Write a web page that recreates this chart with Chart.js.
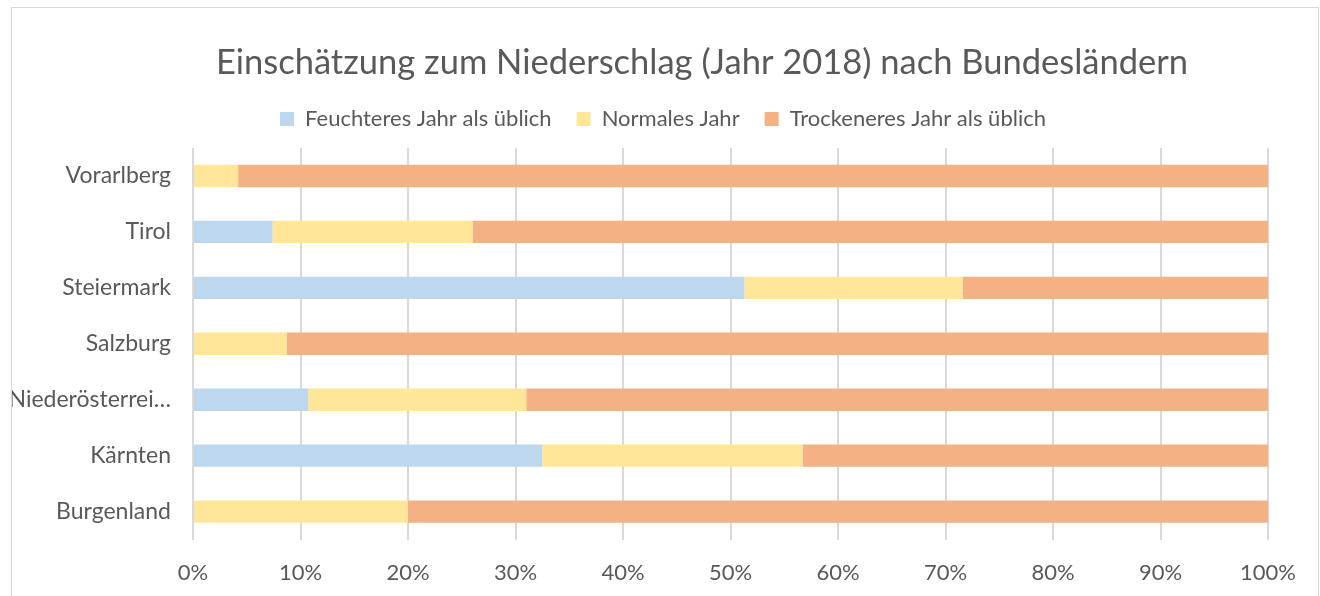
<!DOCTYPE html>
<html>
<head>
<meta charset="utf-8">
<script src="https://cdn.jsdelivr.net/npm/chart.js@4"></script>
<style>
  body { margin: 0; background: #fff; }
  #wrap { position: absolute; left: 11px; top: 7px; width: 1306px; height: 602px; border: 1px solid #d9d9d9; }
</style>
</head>
<body>
<div id="wrap"><canvas id="barChart"></canvas></div>
<script>
// Bundesländer (top of the chart first)
const laender = ['Vorarlberg', 'Tirol', 'Steiermark', 'Salzburg', 'Niederösterreich', 'Kärnten', 'Burgenland'];
const feuchter = [0, 7.4, 51.3, 0, 10.7, 32.5, 0];
const normal = [4.2, 18.6, 20.3, 8.7, 20.3, 24.2, 20.0];
const trockener = [95.8, 74.0, 28.4, 91.3, 69.0, 43.3, 80.0];
const xTicks = [0, 10, 20, 30, 40, 50, 60, 70, 80, 90, 100];
const titel = 'Einschätzung zum Niederschlag (Jahr 2018) nach Bundesländern';

const textColor = '#595959';
const fontFamily = 'Lato, "Open Sans", sans-serif';

// title is drawn by hand, it sits a bit right of the legend in the original
const titlePlugin = {
    id: 'titlePlugin',
    afterLayout(chart) {
        // legend is centred over the whole box, not only the plot part
        chart.legend.left += 23;
        chart.legend.right += 23;
    },
    afterDraw(chart) {
        const c = chart.ctx;
        c.save();
        c.font = 'normal 34.5px ' + fontFamily;
        c.fillStyle = textColor;
        c.textAlign = 'center';
        c.textBaseline = 'middle';
        c.fillText(titel, 690, 55);
        c.restore();
    },
};

const ctx = document.getElementById('barChart').getContext('2d');
const barChart = new Chart(ctx, {
    type: 'bar',
    data: {
        labels: laender,
        datasets: [
            { label: 'Feuchteres Jahr als üblich', data: feuchter, backgroundColor: '#bdd7ee' },
            { label: 'Normales Jahr', data: normal, backgroundColor: '#ffe699' },
            { label: 'Trockeneres Jahr als üblich', data: trockener, backgroundColor: '#f4b183' },
        ],
    },
    plugins: [titlePlugin],
    options: {
        indexAxis: 'y',
        responsive: true,
        maintainAspectRatio: false,
        animation: false,
        datasets: { bar: { categoryPercentage: 1, barPercentage: 0.4 } },
        layout: { padding: { left: 0, right: 50, top: 75, bottom: 3 } },
        plugins: {
            title: { display: false },
            legend: {
                display: true,
                labels: {
                    color: textColor,
                    boxWidth: 14,
                    boxHeight: 14,
                    padding: 25,
                    font: { family: fontFamily, size: 22 },
                },
            },
            tooltip: { enabled: false },
        },
        scales: {
            x: {
                stacked: true,
                min: 0,
                max: 100,
                afterBuildTicks: function(axis) {
                    axis.ticks = xTicks.map(v => ({ value: v }));
                },
                grid: { color: '#d9d9d9', lineWidth: 2, drawTicks: false },
                border: { display: false },
                ticks: {
                    color: textColor,
                    padding: 20.5,
                    font: { family: fontFamily, size: 22 },
                    callback: function(value) {
                        return value + '%';
                    },
                },
            },
            // empty spacer between legend and plot
            xTop: {
                type: 'linear',
                position: 'top',
                grid: { display: false, drawTicks: false },
                border: { display: false },
                ticks: { display: false },
                afterFit: function(axis) { axis.height = 8; },
            },
            y: {
                stacked: true,
                grid: { display: false, drawTicks: false },
                border: { display: false },
                afterFit: function(axis) { axis.width = 181; },
                ticks: {
                    color: textColor,
                    padding: 22,
                    font: { family: fontFamily, size: 23 },
                    callback: function(value) {
                        const name = this.getLabelForValue(value);
                        return name.length > 15 ? name.slice(0, 14) + '…' : name;
                    },
                },
            },
        },
    },
});
</script>
</body>
</html>
